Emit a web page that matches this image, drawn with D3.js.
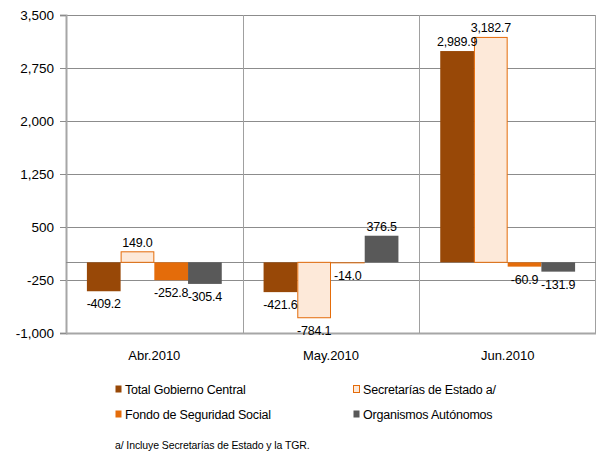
<!DOCTYPE html>
<html>
<head>
<meta charset="utf-8">
<script src="https://cdn.jsdelivr.net/npm/d3@7"></script>
<style>
  body { margin: 0; background: #fff; }
  text { font-family: "Liberation Sans", Arial, sans-serif; fill: #000; }
</style>
</head>
<body>
<div id="chart"></div>
<script>
const months = ['Abr.2010', 'May.2010', 'Jun.2010'];
const seriesNames = ['Total Gobierno Central', 'Secretarías de Estado a/', 'Fondo de Seguridad Social', 'Organismos Autónomos'];
const totalGobierno = [-409.2, -421.6, 2989.9];
const secretarias = [149.0, -784.1, 3182.7];
const fondoSeguridad = [-252.8, -14.0, -60.9];
const organismos = [-305.4, 376.5, -131.9];
const yTicks = [-1000, -250, 500, 1250, 2000, 2750, 3500];
const footnote = 'a/ Incluye Secretarías de Estado y la TGR.';

const width = 597, height = 451;
const margin = {top: 15, right: 1, bottom: 118, left: 66};

const fills = ['#984807', '#fde9d9', '#e46c0a', '#595959'];
const strokes = [null, '#e46c0a', null, null];

// hyphen instead of unicode minus, like the original
const fmtTick = function (d) { return d3.format(',')(d).replace('\u2212', '-'); };
const fmtLabel = function (d) { return d3.format(',.1f')(d).replace('\u2212', '-'); };

const allSeries = [totalGobierno, secretarias, fondoSeguridad, organismos];
const data = [];
months.forEach(function (m, i) {
  allSeries.forEach(function (s, j) {
    data.push({month: m, series: seriesNames[j], idx: j, value: s[i]});
  });
});

const svg = d3.select('#chart').append('svg')
  .attr('width', width)
  .attr('height', height);

const x0 = d3.scaleBand()
  .domain(months)
  .range([margin.left, width - margin.right]);

const x1 = d3.scaleBand()
  .domain(seriesNames)
  .range([0, x0.bandwidth()])
  .paddingOuter(0.62);

const y = d3.scaleLinear()
  .domain([-1000, 3500])
  .range([height - margin.bottom, margin.top]);

// title, cut by the top edge in the original
svg.append('text')
  .attr('x', 322)
  .attr('y', -2)
  .attr('text-anchor', 'middle')
  .style('font-size', '11px')
  .text('(En millones de Lempiras)');

// horizontal gridlines
svg.append('g')
  .selectAll('line')
  .data(yTicks)
  .enter().append('line')
  .attr('x1', margin.left)
  .attr('x2', width - margin.right)
  .attr('y1', function (d) { return Math.round(y(d)) + 0.5; })
  .attr('y2', function (d) { return Math.round(y(d)) + 0.5; })
  .attr('stroke', function (d) { return d === -1000 ? '#a6a6a6' : '#8c8c8c'; })
  .attr('stroke-width', function (d) { return d === -1000 ? 2 : 1; });

// vertical category separators
svg.append('g')
  .selectAll('line')
  .data(months.slice(1).concat(['end']))
  .enter().append('line')
  .attr('x1', function (d) { return d === 'end' ? width - margin.right - 0.5 : Math.round(x0(d)) + 0.5; })
  .attr('x2', function (d) { return d === 'end' ? width - margin.right - 0.5 : Math.round(x0(d)) + 0.5; })
  .attr('y1', margin.top)
  .attr('y2', y(-1000))
  .attr('stroke', '#a0a0a0');

// y axis
const yAxis = svg.append('g')
  .attr('transform', `translate(${margin.left}, 0)`)
  .call(d3.axisLeft(y).tickValues(yTicks).tickSize(6).tickPadding(6)
    .tickFormat(fmtTick));
yAxis.select('.domain').attr('stroke', '#a6a6a6').attr('stroke-width', 2);
yAxis.selectAll('.tick line').attr('stroke', '#8c8c8c');
yAxis.selectAll('.tick text')
  .style('font-size', '13.5px')
  .style('font-family', '"Liberation Sans", Arial, sans-serif')
  .attr('fill', '#000');

// zero line
svg.append('line')
  .attr('x1', margin.left)
  .attr('x2', width - margin.right)
  .attr('y1', Math.round(y(0)) + 0.5)
  .attr('y2', Math.round(y(0)) + 0.5)
  .attr('stroke', '#8c8c8c');

// bars
svg.append('g')
  .selectAll('rect')
  .data(data)
  .enter().append('rect')
  .attr('x', function (d) { return x0(d.month) + x1(d.series) + (strokes[d.idx] ? 0.5 : 0); })
  .attr('y', function (d) { return y(Math.max(0, d.value)); })
  .attr('width', function (d) { return x1.bandwidth() - (strokes[d.idx] ? 1 : 0); })
  .attr('height', function (d) { return Math.abs(y(d.value) - y(0)); })
  .attr('fill', function (d) { return fills[d.idx]; })
  .attr('stroke', function (d) { return strokes[d.idx] || 'none'; });

// data labels
svg.append('g')
  .selectAll('text')
  .data(data)
  .enter().append('text')
  .attr('x', function (d) { return x0(d.month) + x1(d.series) + x1.bandwidth() / 2; })
  .attr('y', function (d) { return d.value >= 0 ? y(d.value) - 5 : y(d.value) + 17; })
  .attr('text-anchor', 'middle')
  .style('font-size', '12.5px')
  .style('letter-spacing', '-0.2px')
  .text(function (d) { return fmtLabel(d.value); });

// category labels
svg.append('g')
  .selectAll('text')
  .data(months)
  .enter().append('text')
  .attr('x', function (d) { return x0(d) + x0.bandwidth() / 2; })
  .attr('y', 360)
  .attr('text-anchor', 'middle')
  .style('font-size', '13px')
  .text(function (d) { return d; });

// legend
const legend = svg.append('g')
  .selectAll('g')
  .data(seriesNames)
  .enter().append('g')
  .attr('transform', function (d, i) {
    return `translate(${i % 2 === 0 ? 115 : 353}, ${i < 2 ? 389 : 414})`;
  });

legend.append('rect')
  .attr('x', 0.5)
  .attr('y', -3.5)
  .attr('width', 6)
  .attr('height', 7)
  .attr('fill', function (d, i) { return fills[i]; })
  .attr('stroke', function (d, i) { return strokes[i] || 'none'; });

legend.append('text')
  .attr('x', 10)
  .attr('y', 4.5)
  .style('font-size', '12.5px')
  .style('letter-spacing', '-0.2px')
  .text(function (d) { return d; });

svg.append('text')
  .attr('x', 115)
  .attr('y', 449)
  .style('font-size', '10.5px')
  .style('letter-spacing', '-0.1px')
  .text(footnote);
</script>
</body>
</html>
